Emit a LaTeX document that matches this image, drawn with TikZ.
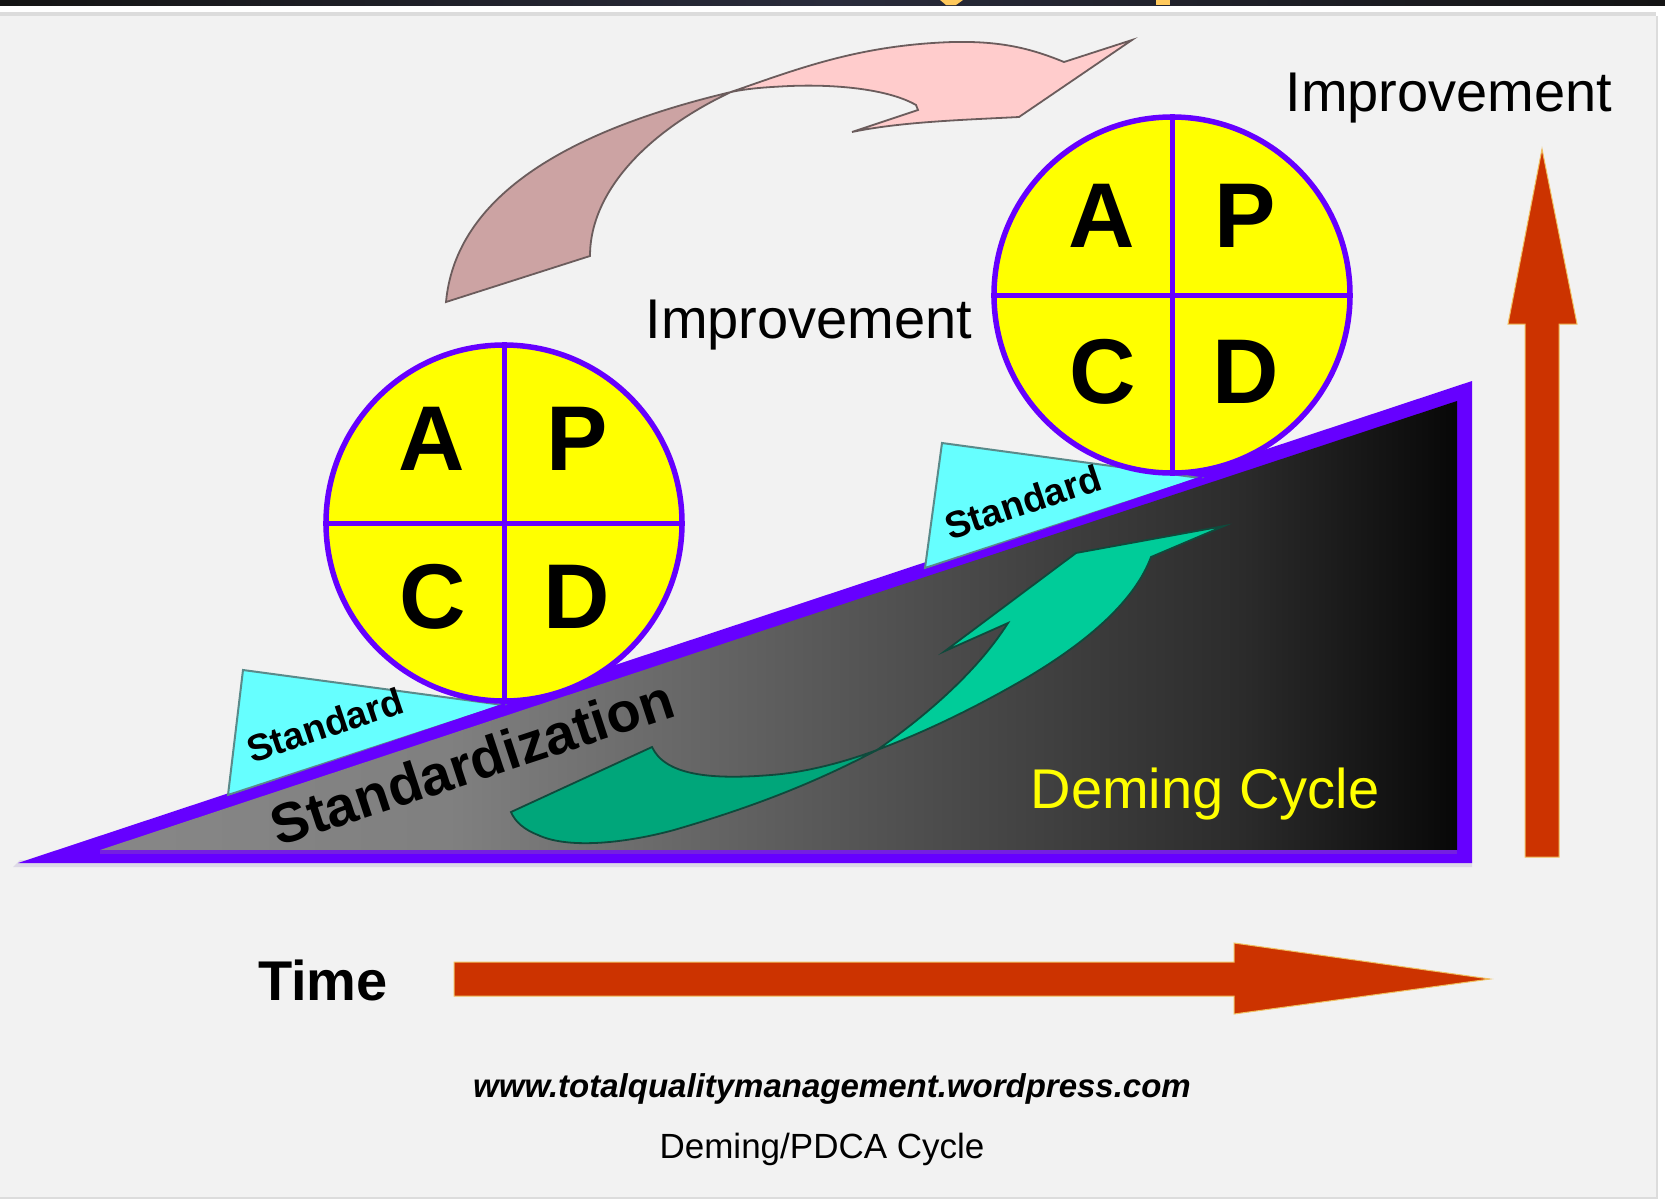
\documentclass[tikz,border=0pt]{standalone}
\usepackage{fontspec}
\setmainfont{Liberation Sans}
\definecolor{bgpanel}{HTML}{F2F2F2}
\definecolor{panelline}{HTML}{DCDCDC}
\definecolor{topbar}{HTML}{2A2C3C}
\definecolor{topbarend}{HTML}{141414}
\definecolor{topmark}{HTML}{FFC95C}
\definecolor{violetline}{HTML}{6600FF}
\definecolor{violetsoft}{HTML}{7420E0}
\definecolor{violethalo}{HTML}{DDD9E6}
\definecolor{wheelyellow}{HTML}{FFFF00}
\definecolor{wedgecyan}{HTML}{66FFFF}
\definecolor{wedgeline}{HTML}{5A8A8A}
\definecolor{arrowred}{HTML}{CC3300}
\definecolor{arrowrim}{HTML}{F0C060}
\definecolor{pinklight}{HTML}{FFCCCC}
\definecolor{pinkdark}{HTML}{CCA3A3}
\definecolor{pinkline}{HTML}{6B5C5C}
\definecolor{greendark}{HTML}{00A67A}
\definecolor{greenlight}{HTML}{00CC99}
\definecolor{greenline}{HTML}{0F4A3C}
\pgfdeclarehorizontalshading{rampshade}{100bp}{
  color(0bp)=(black!47); color(25bp)=(black!47); color(38bp)=(black!50);
  color(48.7bp)=(black!62); color(67bp)=(black!83); color(75bp)=(black!97); color(100bp)=(black!97)}
\tikzset{
  wheel/.style={circle,draw=violetline,line width=5.5pt,fill=wheelyellow,minimum size=356pt,inner sep=0pt},
  spoke/.style={draw=violetline,line width=5pt},
  letter/.style={font=\fontsize{92}{92}\selectfont\bfseries,text=black,inner sep=0pt},
  wedge/.style={draw=wedgeline,line width=2pt,fill=wedgecyan,line join=miter},
  wedgetext/.style={font=\fontsize{37.5}{37.5}\selectfont\bfseries,rotate=18.5,inner sep=0pt},
  label/.style={font=\fontsize{56}{56}\selectfont,inner sep=0pt},
  bigarrow/.style={fill=arrowred,draw=arrowrim,line width=1pt,line join=miter},
  pinkpart/.style={draw=pinkline,line width=1.8pt,line join=miter},
  greenpart/.style={draw=greenline,line width=1.8pt,line join=miter}
}
\begin{document}
\begin{tikzpicture}[x=1pt,y=-1pt]
\useasboundingbox (0,0) rectangle (1665,1200);
% frame
\fill[white] (0,0) rectangle (1665,1200);
\shade[left color=topbarend,right color=topbarend,middle color=topbar] (0,0) rectangle (1665,5);
\fill[topmark] (940,0) -- (963,0) -- (956,5) -- (946,5) -- cycle;
\fill[topmark] (1156,0) rectangle (1170,5);
\fill[panelline] (0,12) rectangle (1656,16);
\fill[bgpanel] (0,16) rectangle (1656,1197);
\fill[panelline] (1656,16) rectangle (1658,1198);
\fill[panelline] (0,1197) rectangle (1658,1199);
% ramp
\fill[violethalo] (13,867) -- (1472,867) -- (1472,860) -- (20,860) -- cycle;
\fill[violetline] (18,863) -- (1472,863) -- (1472,381) -- cycle;
\shade[shading=rampshade] (100,850) -- (1457,850) -- (1457,401) -- cycle;
\fill[violetsoft] (100,850) rectangle (1457,854);
% wedges
\draw[wedge] (243,670) -- (503,705) -- (228,795) -- cycle;
\draw[wedge] (942,443) -- (1200,478) -- (925,568) -- cycle;
\fill[violetline] (226,797) -- (505,703) -- (505,709) -- (228,801) -- cycle;
\fill[violetline] (923,570) -- (1202,476) -- (1202,482) -- (925,574) -- cycle;
% wheels
\node[wheel] (wheelA) at (504,523) {};
\draw[spoke] (wheelA.north) -- (wheelA.south);
\draw[spoke] (wheelA.west) -- (wheelA.east);
\node[letter] (a1) at (432,439) {A};
\node[letter] (p1) at (577,439) {P};
\node[letter] (c1) at (433,597) {C};
\node[letter] (d1) at (577,597) {D};
\node[wheel] (wheelB) at (1172,295) {};
\draw[spoke] (wheelB.north) -- (wheelB.south);
\draw[spoke] (wheelB.west) -- (wheelB.east);
\node[letter] (a2) at (1102,216) {A};
\node[letter] (p2) at (1245,216) {P};
\node[letter] (c2) at (1103,372) {C};
\node[letter] (d2) at (1246,372) {D};
% wedge and ramp texts
\node[wedgetext] (std1) at (325,725) {Standard};
\node[wedgetext] (std2) at (1023,502) {Standard};
\node[font=\fontsize{56}{56}\selectfont\bfseries,rotate=18.2,inner sep=0pt] (stdz) at (472,762) {Standardization};
% pink curved arrow
\draw[pinkpart,fill=pinkdark] (446,302) .. controls (455,205) and (550,135) .. (731,92)
  .. controls (650,130) and (590,190) .. (590,256) -- cycle;
\draw[pinkpart,fill=pinklight] (731,92) .. controls (800,68) and (860,45) .. (953,42)
  .. controls (1000,41) and (1030,48) .. (1064,62)
  -- (1132,40) -- (1019,117) .. controls (960,120) and (900,122) .. (852,132)
  -- (918,110) -- (916,105) .. controls (890,90) and (840,84) .. (790,86)
  .. controls (770,87) and (750,88) .. (731,92) -- cycle;
% green curved arrow
\draw[greenpart,fill=greendark] (511,812) -- (652,747) .. controls (665,775) and (710,780) .. (771,775)
  .. controls (810,772) and (850,760) .. (877,750)
  .. controls (820,780) and (760,805) .. (674,830)
  .. controls (630,842) and (570,850) .. (538,835)
  .. controls (525,830) and (515,822) .. (511,812) -- cycle;
\draw[greenpart,fill=greenlight] (877,750) .. controls (920,720) and (975,675) .. (1008,623)
  -- (945,651) -- (1076,553) -- (1224,526) -- (1151,557)
  .. controls (1135,600) and (1090,640) .. (1028,677)
  .. controls (980,705) and (930,730) .. (877,750) -- cycle;
% big red arrows
\draw[bigarrow] (454,962) -- (1234,962) -- (1234,943) -- (1490,979) -- (1234,1014) -- (1234,996) -- (454,996) -- cycle;
\draw[bigarrow] (1525,857) -- (1525,324) -- (1508,324) -- (1542,149) -- (1577,324) -- (1559,324) -- (1559,857) -- cycle;
% labels
\node[label] (imp1) at (809,325) {Improvement};
\node[label] (imp2) at (1449,98) {Improvement};
\node[label,text=wheelyellow] (deming) at (1205,794) {Deming Cycle};
\node[font=\fontsize{56}{56}\selectfont\bfseries,inner sep=0pt] (time) at (323,980) {Time};
\node[font=\fontsize{33}{33}\selectfont\bfseries\itshape,inner sep=0pt] (www) at (832,1089) {www.totalqualitymanagement.wordpress.com};
\node[font=\fontsize{35}{35}\selectfont,inner sep=0pt] (cap) at (822,1149) {Deming/PDCA Cycle};
\end{tikzpicture}
\end{document}
